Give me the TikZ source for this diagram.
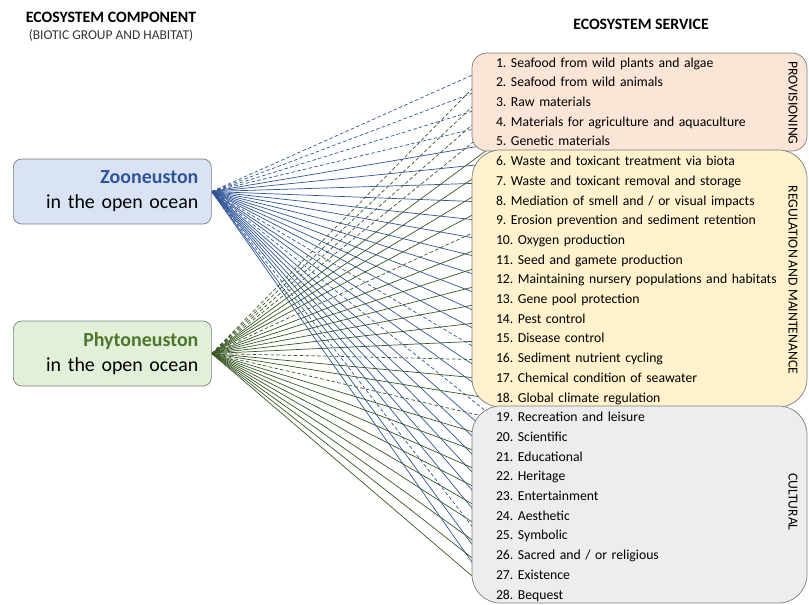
\documentclass[tikz,border=0pt]{standalone}
\usepackage{fontspec}
\setmainfont{Carlito}
\usepackage{tikz}
\usetikzlibrary{positioning}
\definecolor{zoofill}{RGB}{218,227,243}
\definecolor{phytofill}{RGB}{226,240,217}
\definecolor{provfill}{RGB}{251,229,214}
\definecolor{regfill}{RGB}{255,242,204}
\definecolor{cultfill}{RGB}{237,237,237}
\definecolor{zooblue}{RGB}{47,85,151}
\definecolor{phytogreen}{RGB}{56,87,35}
\definecolor{phytotext}{RGB}{76,118,44}
\definecolor{edgegray}{RGB}{125,125,125}
\tikzstyle{groupbox} = [draw=edgegray, line width=0.6pt]
\tikzstyle{sourcebox} = [rectangle, rounded corners=0.25cm, draw=edgegray, line width=0.6pt, text width=5.16cm, inner xsep=0.39cm, minimum height=1.95cm, align=right, font=\fontsize{17}{21.5}\selectfont]
\tikzstyle{service} = [rectangle, inner sep=0pt, outer sep=0pt, text width=8.6cm, minimum height=0.591cm, text height=0.7em, text depth=0.25em, align=left, font=\fontsize{11.7}{14}\selectfont]
\tikzstyle{sidelabel} = [rotate=-90, font=\fontsize{11.7}{14}\selectfont]
\tikzstyle{zoolink} = [zooblue, line width=0.6pt]
\tikzstyle{phytolink} = [phytogreen, line width=0.6pt]
\tikzstyle{weak} = [dash pattern=on 3pt off 2pt]
\pgfdeclarelayer{wires}
\pgfdeclarelayer{boxes}
\pgfsetlayers{wires,boxes,main}
\frenchspacing

\begin{document}
\begin{tikzpicture}[x=0.03cm,y=-0.03cm]
\useasboundingbox (0,0) rectangle (809,604);

% headings
\node[font=\fontsize{13.5}{16}\selectfont\bfseries] (comphead) at (111,17) {ECOSYSTEM COMPONENT};
\node[font=\fontsize{11.5}{14}\selectfont, text=black!80] (comphead2) at (111,36) {(BIOTIC GROUP AND HABITAT)};
\node[font=\fontsize{13.5}{16}\selectfont\bfseries] (servhead) at (641,24) {ECOSYSTEM SERVICE};

% biotic groups
\node[sourcebox, fill=zoofill, anchor=west] (zoo) at (13,191.5) {\textcolor{zooblue}{\bfseries Zooneuston}\\in the open ocean};
\node[sourcebox, fill=phytofill, anchor=west] (phyto) at (13,353.5) {\textcolor{phytotext}{\bfseries Phytoneuston}\\in the open ocean};

% services
\node[service, anchor=west] (s1) at (496,64.5) {1. Seafood from wild plants and algae};
\node[service, below=0pt of s1] (s2) {2. Seafood from wild animals};
\node[service, below=0pt of s2] (s3) {3. Raw materials};
\node[service, below=0pt of s3] (s4) {4. Materials for agriculture and aquaculture};
\node[service, below=0pt of s4] (s5) {5. Genetic materials};
\node[service, below=0pt of s5] (s6) {6. Waste and toxicant treatment via biota};
\node[service, below=0pt of s6] (s7) {7. Waste and toxicant removal and storage};
\node[service, below=0pt of s7] (s8) {8. Mediation of smell and / or visual impacts};
\node[service, below=0pt of s8] (s9) {9. Erosion prevention and sediment retention};
\node[service, below=0pt of s9] (s10) {10. Oxygen production};
\node[service, below=0pt of s10] (s11) {11. Seed and gamete production};
\node[service, below=0pt of s11] (s12) {12. Maintaining nursery populations and habitats};
\node[service, below=0pt of s12] (s13) {13. Gene pool protection};
\node[service, below=0pt of s13] (s14) {14. Pest control};
\node[service, below=0pt of s14] (s15) {15. Disease control};
\node[service, below=0pt of s15] (s16) {16. Sediment nutrient cycling};
\node[service, below=0pt of s16] (s17) {17. Chemical condition of seawater};
\node[service, below=0pt of s17] (s18) {18. Global climate regulation};
\node[service, below=0pt of s18] (s19) {19. Recreation and leisure};
\node[service, below=0pt of s19] (s20) {20. Scientific};
\node[service, below=0pt of s20] (s21) {21. Educational};
\node[service, below=0pt of s21] (s22) {22. Heritage};
\node[service, below=0pt of s22] (s23) {23. Entertainment};
\node[service, below=0pt of s23] (s24) {24. Aesthetic};
\node[service, below=0pt of s24] (s25) {25. Symbolic};
\node[service, below=0pt of s25] (s26) {26. Sacred and / or religious};
\node[service, below=0pt of s26] (s27) {27. Existence};
\node[service, below=0pt of s27] (s28) {28. Bequest};

% service groups
\begin{pgfonlayer}{boxes}
\draw[groupbox, fill=provfill, rounded corners=0.45cm] (472,53) rectangle (807,151);
\draw[groupbox, fill=regfill, rounded corners=0.85cm] (472,150) rectangle (807,407);
\draw[groupbox, fill=cultfill, rounded corners=0.85cm] (472,406) rectangle (807,603);
\end{pgfonlayer}
\node[sidelabel] (prov) at (793,103) {PROVISIONING};
\node[sidelabel] (reg) at (793,280) {REGULATION AND MAINTENANCE};
\node[sidelabel] (cult) at (793,502) {CULTURAL};

% links
\begin{pgfonlayer}{wires}
\foreach \i in {5,6,7,8,9,10,11,12,13,14,15,17,18,20,21,22,23,24,25,27,28}
  \draw[zoolink] (zoo.east) -- (s\i.west);
\foreach \i in {1,2,3,4,16,19,26}
  \draw[zoolink, weak] (zoo.east) -- (s\i.west);
\foreach \i in {5,6,7,8,10,11,12,13,14,15,17,18,20,21,22,23,24,25,26,27,28}
  \draw[phytolink] (phyto.east) -- (s\i.west);
\foreach \i in {1,2,3,4,9,16,19}
  \draw[phytolink, weak] (phyto.east) -- (s\i.west);
\end{pgfonlayer}
\end{tikzpicture}
\end{document}
